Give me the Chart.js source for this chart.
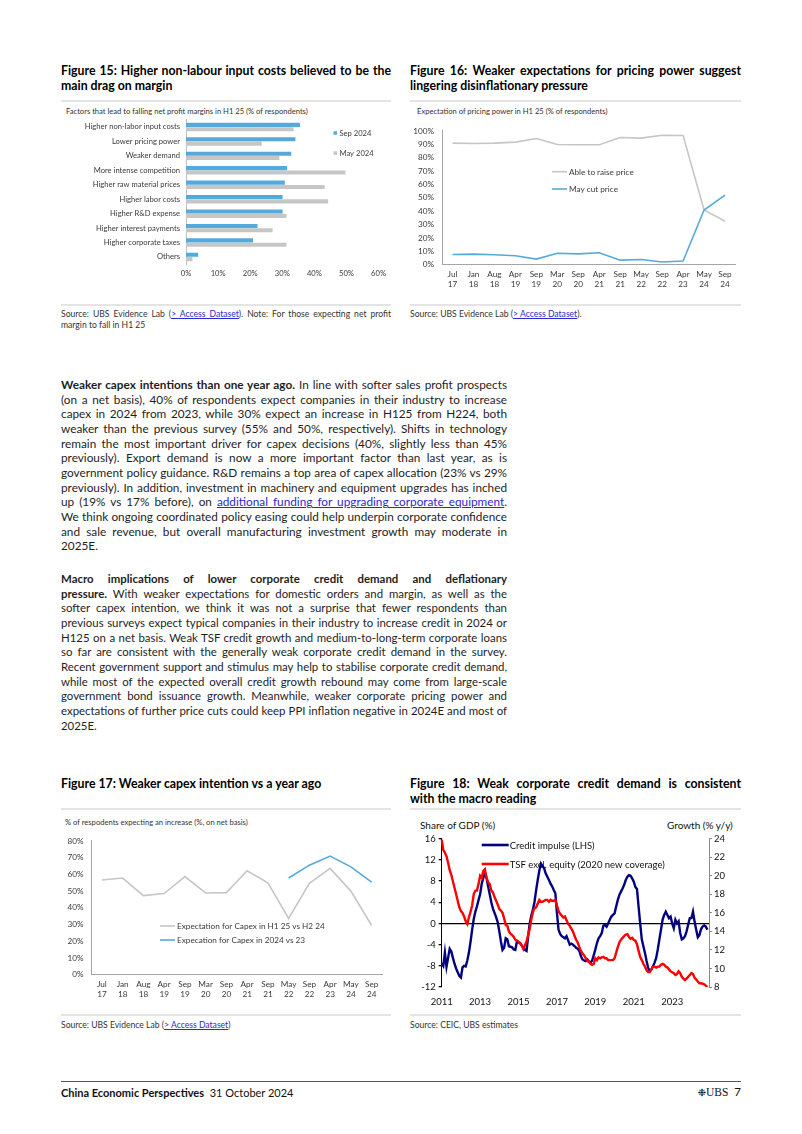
<!DOCTYPE html>
<html>
<head>
<meta charset="utf-8">
<script src="https://cdn.jsdelivr.net/npm/chart.js@4.4.1/dist/chart.umd.min.js"></script>
<style>
  body { margin: 0; background: #fff; width: 802px; height: 1134px; position: relative; overflow: hidden;
         font-family: Lato, "Open Sans", sans-serif; color: #1e1e1e; }
  .abs { position: absolute; }
  .ftitle { position: absolute; font-weight: bold; font-size: 12.3px; line-height: 15px; color: #000; }
  .rule { position: absolute; height: 2px; background: #e4e4e4; }
  .sub { position: absolute; font-size: 7.6px; color: #333; white-space: nowrap; }
  .src { position: absolute; font-size: 8.6px; line-height: 11px; color: #333; }
  .src a, .body a { color: #2a2ad0; text-decoration: underline; }
  .body { position: absolute; left: 61px; width: 446px; font-size: 12.6px; line-height: 14.65px; }
  .j { text-align: justify; text-align-last: justify; }
  canvas { position: absolute; }
</style>
</head>
<body>

<div class="ftitle" style="left:61px;top:63px;width:330px;"><div class="j">Figure 15: Higher non-labour input costs believed to be the</div><div>main drag on margin</div></div>
<div class="ftitle" style="left:410px;top:63px;width:331px;"><div class="j">Figure 16: Weaker expectations for pricing power suggest</div><div>lingering disinflationary pressure</div></div>
<div class="rule" style="left:61px;top:100px;width:330px;"></div>
<div class="rule" style="left:410px;top:100px;width:331px;"></div>

<div class="sub" style="left:66px;top:106px;">Factors that lead to falling net profit margins in H1 25 (% of respondents)</div>
<div class="sub" style="left:417px;top:106px;">Expectation of pricing power in H1 25 (% of respondents)</div>

<canvas id="fig15" width="330" height="195" style="left:61px;top:103px;"></canvas>
<canvas id="fig16" width="331" height="177" style="left:410px;top:118px;"></canvas>

<div class="rule" style="left:61px;top:304px;width:330px;"></div>
<div class="rule" style="left:410px;top:304px;width:331px;"></div>
<div class="src" style="left:61px;top:309px;width:330px;"><div class="j">Source: UBS Evidence Lab (<a>&gt; Access Dataset</a>). Note: For those expecting net profit</div><div>margin to fall in H1 25</div></div>
<div class="src" style="left:410px;top:309px;">Source: UBS Evidence Lab (<a>&gt; Access Dataset</a>).</div>

<div class="body" id="para1" style="top:378px;">
  <div class="j"><b>Weaker capex intentions than one year ago.</b> In line with softer sales profit prospects</div>
  <div class="j">(on a net basis), 40% of respondents expect companies in their industry to increase</div>
  <div class="j">capex in 2024 from 2023, while 30% expect an increase in H125 from H224, both</div>
  <div class="j">weaker than the previous survey (55% and 50%, respectively). Shifts in technology</div>
  <div class="j">remain the most important driver for capex decisions (40%, slightly less than 45%</div>
  <div class="j">previously). Export demand is now a more important factor than last year, as is</div>
  <div class="j">government policy guidance. R&amp;D remains a top area of capex allocation (23% vs 29%</div>
  <div class="j">previously). In addition, investment in machinery and equipment upgrades has inched</div>
  <div class="j">up (19% vs 17% before), on <a>additional funding for upgrading corporate equipment</a>.</div>
  <div class="j">We think ongoing coordinated policy easing could help underpin corporate confidence</div>
  <div class="j">and sale revenue, but overall manufacturing investment growth may moderate in</div>
  <div>2025E.</div>
</div>

<div class="body" id="para2" style="top:572px;">
  <div class="j"><b>Macro implications of lower corporate credit demand and deflationary</b></div>
  <div class="j"><b>pressure.</b> With weaker expectations for domestic orders and margin, as well as the</div>
  <div class="j">softer capex intention, we think it was not a surprise that fewer respondents than</div>
  <div class="j">previous surveys expect typical companies in their industry to increase credit in 2024 or</div>
  <div class="j">H125 on a net basis. Weak TSF credit growth and medium-to-long-term corporate loans</div>
  <div class="j">so far are consistent with the generally weak corporate credit demand in the survey.</div>
  <div class="j">Recent government support and stimulus may help to stabilise corporate credit demand,</div>
  <div class="j">while most of the expected overall credit growth rebound may come from large-scale</div>
  <div class="j">government bond issuance growth. Meanwhile, weaker corporate pricing power and</div>
  <div class="j">expectations of further price cuts could keep PPI inflation negative in 2024E and most of</div>
  <div>2025E.</div>
</div>

<div class="ftitle" style="left:61px;top:776px;width:330px;"><div>Figure 17: Weaker capex intention vs a year ago</div></div>
<div class="ftitle" style="left:410px;top:776px;width:331px;"><div class="j">Figure 18: Weak corporate credit demand is consistent</div><div>with the macro reading</div></div>
<div class="rule" style="left:61px;top:808px;width:330px;"></div>
<div class="rule" style="left:410px;top:808px;width:331px;"></div>

<div class="sub" style="left:65px;top:817px;">% of respodents expecting an increase (%, on net basis)</div>
<div class="abs" style="left:420px;top:819px;font-size:10px;color:#111;">Share of GDP (%)</div>
<div class="abs" style="left:667px;top:819px;font-size:10px;color:#111;">Growth (% y/y)</div>

<canvas id="fig17" width="330" height="180" style="left:61px;top:828px;"></canvas>
<canvas id="fig18" width="331" height="180" style="left:410px;top:830px;"></canvas>

<div class="rule" style="left:61px;top:1014px;width:330px;"></div>
<div class="rule" style="left:410px;top:1014px;width:331px;"></div>
<div class="src" style="left:61px;top:1020px;">Source: UBS Evidence Lab (<a>&gt; Access Dataset</a>)</div>
<div class="src" style="left:410px;top:1020px;">Source: CEIC, UBS estimates</div>

<div class="abs" style="left:61px;top:1081px;width:680px;height:1px;background:#555;"></div>
<div class="abs" style="left:61px;top:1086px;font-size:11px;color:#111;"><b>China Economic Perspectives</b>&nbsp;&nbsp;31 October 2024</div>
<div class="abs" style="left:690px;top:1085px;width:51px;text-align:right;font-size:11.5px;color:#111;"><span style="font-family:'DejaVu Sans';font-size:10px;">❉</span><span style="font-family:'Liberation Serif';">UBS</span>&nbsp; 7</div>

<script>
// ---- data ----
const factorLabels = ['Higher non-labor input costs', 'Lower pricing power', 'Weaker demand',
  'More intense competition', 'Higher raw material prices', 'Higher labor costs',
  'Higher R&D expense', 'Higher interest payments', 'Higher corporate taxes', 'Others'];
const factorsSep24 = [35.5, 34.1, 32.8, 31.5, 30.8, 30.1, 30.1, 22.3, 20.9, 3.8];
const factorsMay24 = [33.5, 23.6, 29.1, 49.7, 43.2, 44.3, 31.3, 27.0, 31.3, 2.0];

const surveyLabels = ['Jul 17', 'Jan 18', 'Aug 18', 'Apr 19', 'Sep 19', 'Mar 20', 'Sep 20',
  'Apr 21', 'Sep 21', 'May 22', 'Sep 22', 'Apr 23', 'May 24', 'Sep 24'];
const ableToRaise = [90.9, 90.6, 90.9, 91.6, 94.3, 89.9, 89.7, 89.7, 95.1, 94.6, 96.8, 96.6, 40.9, 32.5];
const mayCut = [7.6, 7.9, 7.4, 6.7, 4.2, 8.6, 8.1, 8.9, 3.4, 3.9, 2.0, 2.7, 40.9, 52.0];

const capexH1vsH2 = [56.6, 57.8, 47.3, 48.5, 58.7, 48.9, 49.1, 62.2, 54.9, 33.6, 54.7, 63.6, 50.0, 29.4];
const capexYear = [null, null, null, null, null, null, null, null, null, 57.8, 65.5, 70.9, 64.5, 55.3];

// monthly, Jan 2011 - Nov 2024
const creditImpulse = [
  -7.5, -8, -5.5, -8.2, -6.5, -4.8, -5.3, -6.5, -7.6, -8.5, -9.2, -9.9,
  -10.2, -8.3, -8, -8.1, -7, -5.5, -3.5, -1.2, 0.8, 2.2, 3.2, 4.4,
  5.5, 7.5, 8.6, 9.6, 8.6, 7, 5.5, 4, 2.8, 2, 1.2, 0.2,
  -1.5, -3.4, -5, -4.6, -2.8, -3, -4.3, -4.4, -4.5, -4.9, -5, -3.4,
  -3.6, -3.7, -4.2, -4.6, -5, -5.2, -2.4, 0, 1.5, 2.6, 4.1, 6.3,
  8.2, 10, 11.3, 10.8, 10.4, 9.4, 8.8, 8.2, 7.5, 7, 6.3, 5.7,
  2, -1.2, -2, -2.4, -2.6, -2.8, -2.4, -3.2, -4, -3.8, -4, -4.3,
  -4.6, -4.8, -5.2, -6.2, -6.8, -7, -7.1, -6.8, -7.2, -7.4, -7, -6,
  -4.9, -3.7, -2.8, -2.4, -1.8, -0.4, -0.3, -0.6, 0, 0.7, 1.3, 1.6,
  1.9, 3.2, 4.4, 5.4, 6, 6.6, 7.3, 8.2, 8.8, 9.1, 9, 8.5,
  7.9, 6.9, 6.5, 3.2, 0, -3, -4.3, -5.6, -7.1, -8.4, -9, -8.7,
  -8.1, -7.4, -6.5, -4.9, -3, -1.2, 0.7, 1.6, 2.2, 1.6, 1, 1.3,
  0, -0.9, 0.7, 0, 0.4, -1.8, -3, -2.8, -2.4, -1.5, -0.2, 1,
  1, 2.2, 0.3, -1.2, -2.6, -2.2, -1.1, -0.6, -0.4, -0.6, -1.2
];
const tsfGrowth = [
  23.9, 22.8, 22.5, 22.1, 21.4, 20.6, 20.1, 19.4, 18.7, 18, 17.3, 16.6,
  16.2, 16, 15.6, 15.1, 14.8, 15.5, 16.1, 16.8, 18, 18.4, 18.4, 19.1,
  20, 19.8, 20.5, 20.7, 19.8, 19.3, 19.1, 18.4, 18.2, 17.7, 17.3, 16.9,
  16.4, 16.25, 16, 15.4, 14.7, 14.6, 14, 13.75, 13.6, 13.4, 13.1, 13,
  12.9, 12.7, 12.5, 12.1, 12.5, 12.9, 13.6, 14.3, 15.3, 16.1, 16.5, 16.6,
  17, 17.4, 17.2, 17.2, 17.3, 17.4, 17.4, 17.2, 17.4, 17.3, 17.3, 17.4,
  16.8, 16.2, 15.9, 15.7, 15.5, 15.6, 15.2, 14.8, 14.6, 14.3, 14, 13.5,
  13.1, 12.8, 12.3, 11.9, 11.6, 11.4, 11.1, 10.85, 10.7, 10.5, 10.4, 10.5,
  11.1, 10.9, 11.2, 11.1, 11.2, 11.25, 11.1, 11.1, 10.9, 10.9, 10.9, 10.9,
  11.1, 11.7, 12.3, 12.8, 13.1, 13.3, 13.5, 13.65, 13.7, 13.4, 13.2, 13.3,
  13.1, 13, 12.6, 11.9, 11.25, 10.9, 10.5, 10.2, 9.8, 9.6, 9.6, 9.9,
  10.2, 10.2, 10.1, 10.2, 10.2, 10.4, 10.5, 10.4, 10.2, 10.1, 9.9, 9.7,
  9.6, 9.5, 9.3, 9.4, 9.7, 9.5, 9.1, 8.9, 8.75, 8.9, 9.1, 9.3,
  9.5, 9.4, 9, 8.8, 8.6, 8.4, 8.4, 8.35, 8.3, 8.15, 8.0
];
const months = [];
for (let y = 2011; y <= 2024; y++) {
  for (let m = 1; m <= 12; m++) months.push(y + '-' + String(m).padStart(2, '0'));
}

// ---- justified text blocks: shrink font until the widest line fits ----
function fitBlock(el, width) {
  let widest = 0;
  el.querySelectorAll('div').forEach(l => {
    l.style.display = 'inline-block';
    l.style.whiteSpace = 'nowrap';
    widest = Math.max(widest, l.getBoundingClientRect().width);
    l.style.display = '';
    l.style.whiteSpace = '';
  });
  if (widest > width) {
    const fs = parseFloat(getComputedStyle(el).fontSize);
    el.style.fontSize = (fs * width / widest * 0.995) + 'px';
  }
}
document.querySelectorAll('.body, .ftitle, .src').forEach(el => {
  fitBlock(el, el.getBoundingClientRect().width);
});

// ---- chart setup ----
const FONT = 'Lato, "Open Sans", sans-serif';
Chart.defaults.font.family = FONT;
Chart.defaults.color = '#3a3a3a';
Chart.defaults.animation = false;
Chart.defaults.responsive = false;
Chart.defaults.devicePixelRatio = 1;
Chart.defaults.plugins.legend.display = false;
Chart.defaults.plugins.tooltip.enabled = false;

const BLUE = '#55aadd';
const GREY = '#c6c6c6';

// legend drawn inside the plot, like the original
const noteLegend = {
  id: 'noteLegend',
  afterDraw(chart, args, o) {
    if (!o.items) return;
    const ctx = chart.ctx;
    ctx.save();
    ctx.font = o.size + 'px ' + FONT;
    ctx.textBaseline = 'middle';
    o.items.forEach(it => {
      const ds = chart.data.datasets[it.ds];
      if (o.kind === 'box') {
        ctx.fillStyle = ds.backgroundColor;
        ctx.fillRect(it.x, it.y - o.box / 2, o.box, o.box);
      } else {
        ctx.strokeStyle = ds.borderColor;
        ctx.lineWidth = o.lineWidth;
        ctx.beginPath();
        ctx.moveTo(it.x, it.y);
        ctx.lineTo(it.x + o.len, it.y);
        ctx.stroke();
      }
      ctx.fillStyle = o.color || '#3a3a3a';
      ctx.fillText(ds.label, it.x + o.textGap, it.y + 0.5);
    });
    ctx.restore();
  }
};
Chart.register(noteLegend);

// Figure 15
new Chart(document.getElementById('fig15'), {
  type: 'bar',
  data: {
    labels: factorLabels,
    datasets: [
      { label: 'Sep 2024', data: factorsSep24, backgroundColor: BLUE },
      { label: 'May 2024', data: factorsMay24, backgroundColor: GREY }
    ]
  },
  options: {
    indexAxis: 'y',
    layout: { padding: { top: 16.8, right: 11, bottom: 14, left: 0 } },
    datasets: { bar: { categoryPercentage: 0.6, barPercentage: 0.95 } },
    scales: {
      y: {
        afterFit: s => { s.width = 125; },
        grid: { display: false, drawTicks: false },
        border: { color: '#c0c0c0' },
        ticks: { font: { size: 7.6 }, padding: 6, autoSkip: false }
      },
      x: {
        min: 0, max: 60,
        afterFit: s => { s.height = 19.8; },
        grid: { display: false, drawTicks: false },
        border: { display: false },
        ticks: { stepSize: 10, font: { size: 7.6 }, padding: 5, callback: v => v + '%' }
      }
    },
    plugins: {
      noteLegend: {
        kind: 'box', box: 3.5, size: 7.6, textGap: 6,
        items: [{ ds: 0, x: 272.5, y: 30 }, { ds: 1, x: 272.5, y: 50 }]
      }
    }
  }
});

function surveyOptions(box, yMax, legendItems) {
  return {
    layout: { padding: box.padding },
    elements: { point: { radius: 0 }, line: { borderWidth: 1.6, tension: 0 } },
    scales: {
      x: {
        offset: true,
        afterFit: s => { s.height = 28; },
        grid: { display: false, drawTicks: false },
        border: { color: '#a6a6a6' },
        ticks: { font: { size: 8.2 }, padding: 5, maxRotation: 0, autoSkip: false }
      },
      y: {
        min: 0, max: yMax,
        afterFit: s => { s.width = box.yWidth; },
        grid: { display: false, drawTicks: false },
        border: { color: '#a6a6a6' },
        ticks: { stepSize: 10, font: { size: 8.2 }, padding: 8, callback: v => v + '%' }
      }
    },
    plugins: {
      noteLegend: { kind: 'line', len: 15, lineWidth: 1.6, size: 8.2, textGap: 17, items: legendItems }
    }
  };
}

// Figure 16
new Chart(document.getElementById('fig16'), {
  type: 'line',
  data: {
    labels: surveyLabels.map(l => l.split(' ')),
    datasets: [
      { label: 'May cut price', data: mayCut, borderColor: BLUE },
      { label: 'Able to raise price', data: ableToRaise, borderColor: GREY }
    ]
  },
  options: surveyOptions({ padding: { top: 11.3, right: 5.5, bottom: 2.3, left: 0 }, yWidth: 32 }, 100,
    [{ ds: 1, x: 142, y: 53.7 }, { ds: 0, x: 142, y: 71 }])
});

// Figure 17
new Chart(document.getElementById('fig17'), {
  type: 'line',
  data: {
    labels: surveyLabels.map(l => l.split(' ')),
    datasets: [
      { label: 'Expecation for Capex in 2024 vs 23', data: capexYear, borderColor: BLUE },
      { label: 'Expectation for Capex in H1 25 vs H2 24', data: capexH1vsH2, borderColor: GREY }
    ]
  },
  options: surveyOptions({ padding: { top: 8.7, right: 9, bottom: 5.3, left: 0 }, yWidth: 30.5 }, 80,
    [{ ds: 1, x: 99, y: 98 }, { ds: 0, x: 99, y: 112 }])
});

// Figure 18
new Chart(document.getElementById('fig18'), {
  type: 'line',
  data: {
    labels: months,
    datasets: [
      { label: 'Credit impulse (LHS)', data: creditImpulse, borderColor: '#000080', yAxisID: 'yL', order: 1 },
      { label: 'TSF excl. equity (2020 new coverage)', data: tsfGrowth, borderColor: '#ff0000', yAxisID: 'yR', order: 0 }
    ]
  },
  options: {
    layout: { padding: { top: 7.7, right: 7, bottom: 3, left: 0 } },
    elements: { point: { radius: 0 }, line: { borderWidth: 2.4, tension: 0 } },
    scales: {
      x: {
        afterFit: s => { s.height = 20; },
        grid: { display: false, drawTicks: false },
        border: { display: false },
        ticks: {
          font: { size: 9.5 }, color: '#111', padding: 9, maxRotation: 0, autoSkip: false,
          callback: function (v) {
            const lab = this.getLabelForValue(v);
            const yr = +lab.slice(0, 4);
            return lab.endsWith('-01') && yr % 2 === 1 ? String(yr) : null;
          }
        }
      },
      yL: {
        position: 'left', min: -12, max: 16,
        afterFit: s => { s.width = 31.7; },
        grid: {
          color: c => (c.tick && c.tick.value === 0 ? '#000' : 'rgba(0,0,0,0)'),
          lineWidth: 1.3, tickColor: '#000', tickLength: 3
        },
        border: { color: '#000' },
        ticks: { stepSize: 4, font: { size: 9.5 }, color: '#111', padding: 3 }
      },
      yR: {
        position: 'right', min: 8, max: 24,
        afterFit: s => { s.width = 25; },
        grid: { drawOnChartArea: false, tickColor: '#8a8a8a', tickLength: 3 },
        border: { color: '#8a8a8a' },
        ticks: { stepSize: 2, font: { size: 9.5 }, color: '#111', padding: 2 }
      }
    },
    plugins: {
      noteLegend: {
        kind: 'line', len: 27, lineWidth: 2.6, size: 9.5, textGap: 28, color: '#111',
        items: [{ ds: 0, x: 71.7, y: 15 }, { ds: 1, x: 71.7, y: 34 }]
      }
    }
  }
});
</script>
</body>
</html>
